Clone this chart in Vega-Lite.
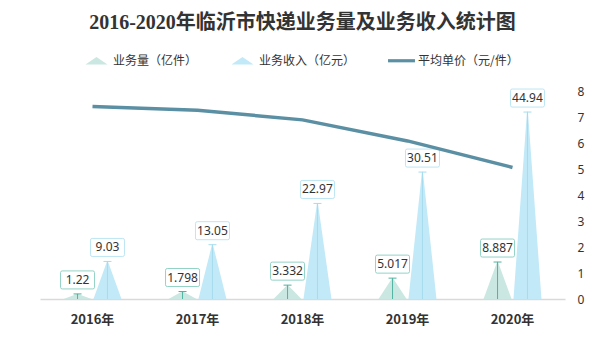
{
  "$schema": "https://vega.github.io/schema/vega-lite/v6.json",
  "width": 525,
  "height": 208,
  "autosize": {"type": "none"},
  "padding": {"left": 40, "top": 91, "right": 41, "bottom": 65},
  "background": "white",
  "config": {
    "view": {"stroke": null},
    "font": "Noto Sans CJK SC"
  },
  "title": {
    "text": "2016-2020年临沂市快递业务量及业务收入统计图",
    "font": "Liberation Serif, Noto Sans CJK SC",
    "fontSize": 20,
    "fontWeight": "bold",
    "color": "#333333",
    "anchor": "middle",
    "offset": 15
  },
  "datasets": {
    "bars": [
      {"year": "2016年", "series": "业务量（亿件）", "value": 1.22},
      {"year": "2017年", "series": "业务量（亿件）", "value": 1.798},
      {"year": "2018年", "series": "业务量（亿件）", "value": 3.332},
      {"year": "2019年", "series": "业务量（亿件）", "value": 5.017},
      {"year": "2020年", "series": "业务量（亿件）", "value": 8.887},
      {"year": "2016年", "series": "业务收入（亿元）", "value": 9.03},
      {"year": "2017年", "series": "业务收入（亿元）", "value": 13.05},
      {"year": "2018年", "series": "业务收入（亿元）", "value": 22.97},
      {"year": "2019年", "series": "业务收入（亿元）", "value": 30.51},
      {"year": "2020年", "series": "业务收入（亿元）", "value": 44.94}
    ],
    "price": [
      {"year": "2016年", "price": 7.40},
      {"year": "2017年", "price": 7.26},
      {"year": "2018年", "price": 6.89},
      {"year": "2019年", "price": 6.08},
      {"year": "2020年", "price": 5.06}
    ]
  },
  "layer": [
    {
      "data": {"name": "bars"},
      "layer": [
        {
          "transform": [
            {"stack": "value", "groupby": ["year", "series"], "as": ["v0", "v1"]},
            {"fold": ["v0", "v1"], "as": ["end", "h"]}
          ],
          "mark": {"type": "trail", "clip": true},
          "encoding": {
            "x": {
              "field": "year", "type": "nominal",
              "scale": {"paddingInner": 0.43, "paddingOuter": 0.215},
              "axis": {
                "title": null, "ticks": false, "grid": false,
                "domainColor": "#d9d9d9", "domainWidth": 1.5,
                "labelAngle": 0, "labelFontSize": 13, "labelFontWeight": "bold",
                "labelColor": "#333333", "labelPadding": 14,
                "labelFont": "Noto Sans CJK SC"
              }
            },
            "xOffset": {"field": "series", "type": "nominal", "scale": {"domain": ["业务量（亿件）", "业务收入（亿元）"]}},
            "y": {"field": "h", "type": "quantitative", "scale": {"domain": [0, 50]}, "axis": null},
            "size": {"field": "end", "type": "ordinal", "scale": {"domain": ["v0", "v1"], "range": [28, 0]}, "legend": null},
            "color": {
              "field": "series", "type": "nominal",
              "scale": {
                "domain": ["业务量（亿件）", "业务收入（亿元）", "平均单价（元/件）"],
                "range": ["#cbe7e1", "#c2e9f7", "#5b8fa3"]
              },
              "legend": {
                "title": null,
                "orient": "none",
                "direction": "horizontal",
                "legendX": 44,
                "legendY": -43,
                "symbolSize": 600,
                "labelFontSize": 12,
                "labelColor": "#333333",
                "labelFont": "Noto Sans CJK SC",
                "labelOffset": 4,
                "columnPadding": 32,
                "encode": {
                  "symbols": {
                    "update": {
                      "shape": {"signal": "datum.value === '平均单价（元/件）' ? 'M-1.1,-0.13L1.1,-0.13L1.1,0.13L-1.1,0.13Z' : 'M-0.9,0.3L0,-0.3L0.9,0.3Z'"},
                      "fill": {"scale": "color", "field": "value"},
                      "stroke": {"value": "transparent"},
                      "strokeWidth": {"value": 0},
                      "opacity": {"value": 1}
                    }
                  }
                }
              }
            },
            "detail": {"field": "year"},
            "order": {"field": "end"}
          }
        },
        {
          "mark": {"type": "rule", "strokeWidth": 1},
          "encoding": {
            "x": {"field": "year", "type": "nominal"},
            "xOffset": {"field": "series", "type": "nominal"},
            "y": {"field": "value", "type": "quantitative", "scale": {"domain": [0, 50]}, "axis": null},
            "y2": {"datum": 0},
            "stroke": {"condition": {"test": "datum.series === '业务量（亿件）'", "value": "#4fb3a0"}, "value": "#a6dcef"}
          }
        },
        {
          "mark": {"type": "point", "shape": "stroke", "size": 64, "strokeWidth": 1, "filled": false, "opacity": 1},
          "encoding": {
            "x": {"field": "year", "type": "nominal"},
            "xOffset": {"field": "series", "type": "nominal"},
            "y": {"field": "value", "type": "quantitative", "scale": {"domain": [0, 50]}, "axis": null},
            "stroke": {"condition": {"test": "datum.series === '业务量（亿件）'", "value": "#4fb3a0"}, "value": "#a6dcef"}
          }
        },
        {
          "mark": {
            "type": "point",
            "shape": "M-0.9,-0.53Q-1,-0.53,-1,-0.43L-1,0.43Q-1,0.53,-0.9,0.53L0.9,0.53Q1,0.53,1,0.43L1,-0.43Q1,-0.53,0.9,-0.53Z",
            "size": 1156, "filled": true, "fill": "white", "strokeWidth": 1, "opacity": 1, "yOffset": -14
          },
          "encoding": {
            "x": {"field": "year", "type": "nominal"},
            "xOffset": {"field": "series", "type": "nominal"},
            "y": {"field": "value", "type": "quantitative", "scale": {"domain": [0, 50]}, "axis": null},
            "stroke": {"condition": {"test": "datum.series === '业务量（亿件）'", "value": "#93d3c6"}, "value": "#bde6f3"}
          }
        },
        {
          "mark": {"type": "text", "fontSize": 12, "color": "#333333", "baseline": "middle", "yOffset": -14, "font": "Noto Sans"},
          "encoding": {
            "x": {"field": "year", "type": "nominal"},
            "xOffset": {"field": "series", "type": "nominal"},
            "y": {"field": "value", "type": "quantitative", "scale": {"domain": [0, 50]}, "axis": null},
            "text": {"field": "value", "type": "nominal"}
          }
        }
      ]
    },
    {
      "data": {"name": "price"},
      "mark": {"type": "line", "strokeWidth": 3.5},
      "encoding": {
        "x": {"field": "year", "type": "nominal"},
        "y": {
          "field": "price", "type": "quantitative",
          "scale": {"domain": [0, 8]},
          "axis": {
            "orient": "right", "title": null, "ticks": false, "domain": false, "grid": false,
            "tickCount": 8, "labelFontSize": 12, "labelColor": "#333333", "labelPadding": 12,
            "labelFont": "Noto Sans"
          }
        },
        "color": {"datum": "平均单价（元/件）"}
      }
    }
  ],
  "resolve": {"scale": {"y": "independent"}}
}
